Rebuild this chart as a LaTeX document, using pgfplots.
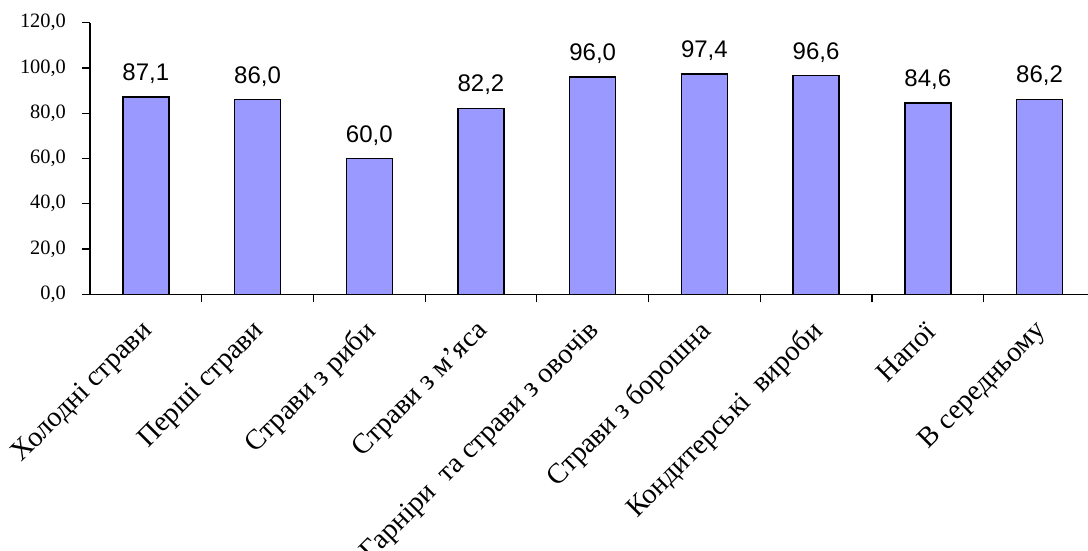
\documentclass[border=0pt]{standalone}
\usepackage{fontspec}
\setmainfont{Liberation Serif}
\newfontfamily\arial{Liberation Sans}
\usepackage{pgfplots}
\pgfplotsset{compat=1.18}
\definecolor{barfill}{RGB}{153,153,255}
\begin{document}
\begin{tikzpicture}
\begin{axis}[
  at={(0,0)}, anchor=south west,
  scale only axis, width=499pt, height=135.8pt,
  xmin=-0.5, xmax=8.434, ymin=0, ymax=120,
  axis x line*=bottom, axis y line*=left,
  axis line style={-, line width=0.6pt},
  tick align=outside, major tick length=4pt,
  tick style={black, line width=0.6pt},
  ytick={0,20,...,120},
  yticklabel style={font=\fontsize{10.2}{12}\selectfont, xshift=-4.5pt,
    /pgf/number format/fixed, /pgf/number format/fixed zerofill,
    /pgf/number format/precision=1, /pgf/number format/use comma,
    /pgf/number format/assume math mode=true},
  % tick marks between the categories
  xtick={0.5,1.5,...,7.5}, xticklabels={},
  % category names at the bar centres
  extra x ticks={0,1,2,3,4,5,6,7,8},
  extra x tick labels={Холодні страви, Перші страви, Страви з риби, Страви з м’яса,
    Гарніри\ \ та страви з овочів, Страви з борошна, Кондитерські\ \ вироби, Напої, В середньому},
  extra x tick style={major tick length=0pt,
    tick label style={xshift=3.8pt, yshift=-14pt, rotate=45, anchor=east,
      font=\fontsize{14.2}{16}\selectfont}},
  ybar, bar width=23pt, bar shift=0pt,
  nodes near coords={\pgfmathprintnumber[fixed,fixed zerofill,precision=1,use comma,assume math mode=true]{\pgfplotspointmeta}},
  every node near coord/.append style={font=\arial\fontsize{12}{14}\selectfont, black, yshift=3pt},
]
\addplot[fill=barfill, draw=black, line width=0.7pt] coordinates {
  (0,87.1) (1,86.0) (2,60.0) (3,82.2) (4,96.0) (5,97.4) (6,96.6) (7,84.6) (8,86.2)
};
\end{axis}
\pgfresetboundingbox
\useasboundingbox (-45pt,-128.35pt) rectangle (499pt,147.15pt);
\end{tikzpicture}
\end{document}
